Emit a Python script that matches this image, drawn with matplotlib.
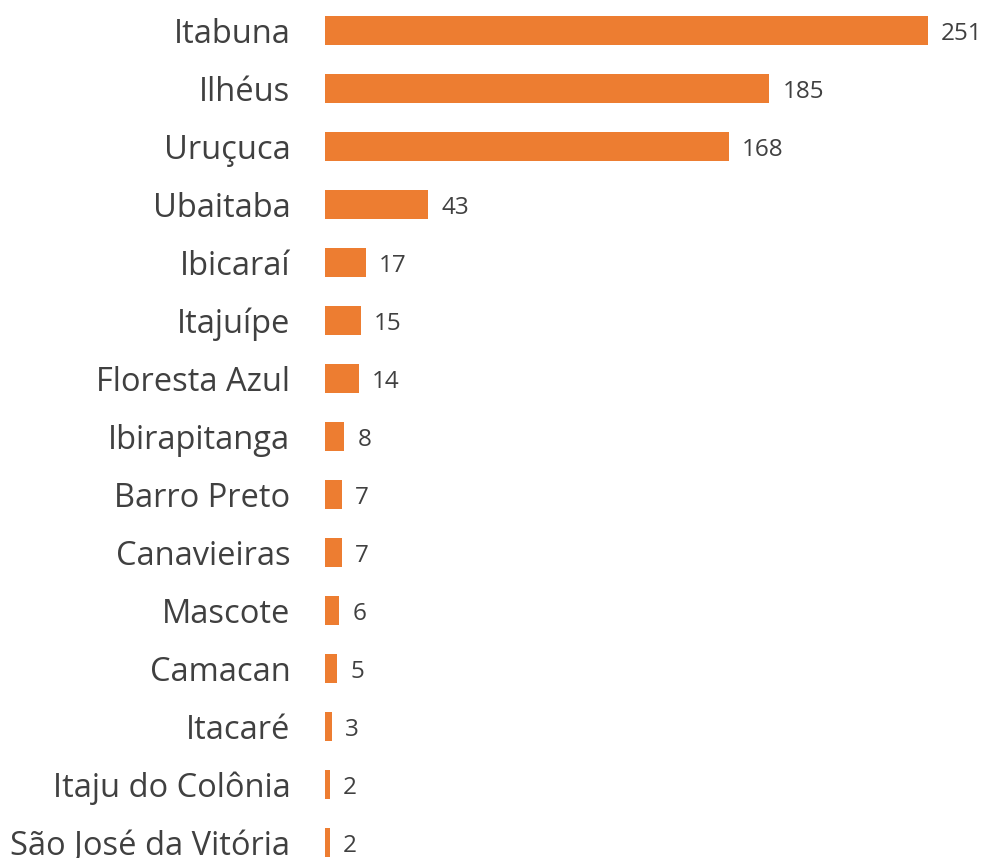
import matplotlib
matplotlib.use("Agg")
import matplotlib.pyplot as plt

municipios = [
    "Itabuna", "Ilhéus", "Uruçuca", "Ubaitaba", "Ibicaraí", "Itajuípe",
    "Floresta Azul", "Ibirapitanga", "Barro Preto", "Canavieiras",
    "Mascote", "Camacan", "Itacaré", "Itaju do Colônia", "São José da Vitória",
]
casos = [251, 185, 168, 43, 17, 15, 14, 8, 7, 7, 6, 5, 3, 2, 2]

bar_color = "#ED7D31"
text_color = "#404040"

fig = plt.figure(figsize=(9.84, 8.58), dpi=100)
ax = fig.add_axes([325 / 984, 0, 659 / 984, 1])

pos = list(range(len(municipios)))
ax.barh(pos, casos, height=0.5, color=bar_color)

for y, v in zip(pos, casos):
    ax.text(v + 5.5, y + 0.06, str(v), va="center", ha="left",
            fontsize=17.5, color=text_color, family="Open Sans")

ax.set_xlim(0, 659 / 2.402)
ax.set_ylim(14.267, -0.526)
ax.set_yticks(pos)
ax.set_yticklabels(municipios, fontsize=23.5, color=text_color, family="Open Sans")
ax.tick_params(axis="y", length=0, pad=25)
ax.set_xticks([])
for s in ax.spines.values():
    s.set_visible(False)

fig.savefig("out.png", dpi=100)
